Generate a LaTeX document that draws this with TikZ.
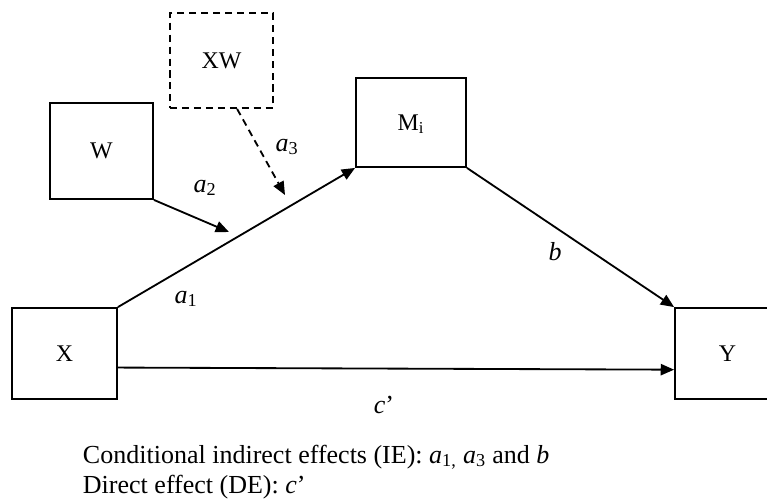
\documentclass[tikz,border=0pt]{standalone}
\usepackage{fontspec}
\setmainfont{Liberation Serif}
\usetikzlibrary{arrows.meta}

\newcommand{\acoef}[1]{\textit{a}\textsubscript{#1}}

\begin{document}
\begin{tikzpicture}[
  var/.style={draw,line width=1.3pt,inner sep=0pt,text depth=0pt,font=\fontsize{17}{20}\selectfont},
  effect/.style={line width=1.3pt,-{Triangle[length=9.5pt,width=8pt]}},
  coef/.style={font=\fontsize{18.5}{22}\selectfont},
  note/.style={anchor=base west,font=\fontsize{18.5}{22}\selectfont}
]
\useasboundingbox (0,0) rectangle (19.175,12.575);

% Variables
\node[var,minimum width=2.625cm,minimum height=2.275cm] (X) at (1.6125,3.7375) {X};
\node[var,minimum width=2.625cm,minimum height=2.275cm] (Y) at (18.1875,3.7375) {Y};
\node[var,minimum width=2.75cm,minimum height=2.225cm] (M) at (10.275,9.5125) {M\textsubscript{i}};
\node[var,minimum width=2.575cm,minimum height=2.4cm] (W) at (2.5375,8.8) {W};
\node[var,dash pattern=on 5pt off 3.5pt,minimum width=2.575cm,minimum height=2.375cm] (XW) at (5.5375,11.0625) {XW};

% Free ends of the moderation arrows
\coordinate (a2end) at (5.725,6.775);
\coordinate (a3end) at (7.125,7.7);

% Paths
\draw[effect] (X.north east) -- (M.south west);
\draw[effect] (M.south east) -- (Y.north west);
\draw[effect] ([yshift=-10pt]X.east) -- ([yshift=-11.5pt]Y.west);
\draw[effect] (W.south east) -- (a2end);
\draw[effect,dash pattern=on 5pt off 3.5pt] ([xshift=0.39cm]XW.south) -- (a3end);

% Coefficients
\node[coef] (a1) at (4.65,5.1) {\acoef{1}};
\node[coef] (a2) at (5.125,7.875) {\acoef{2}};
\node[coef] (a3) at (7.175,8.9) {\acoef{3}};
\node[coef] (b) at (13.875,6.275) {\textit{b}};
\node[coef] (c) at (9.6,2.45) {\textit{c}’};

% Legend
\node[note] (ie) at (1.95,1.0) {Conditional indirect effects (IE): \acoef{1,} \acoef{3} and \textit{b}};
\node[note] (de) at (1.95,0.25) {Direct effect (DE): \textit{c}’};
\end{tikzpicture}
\end{document}
